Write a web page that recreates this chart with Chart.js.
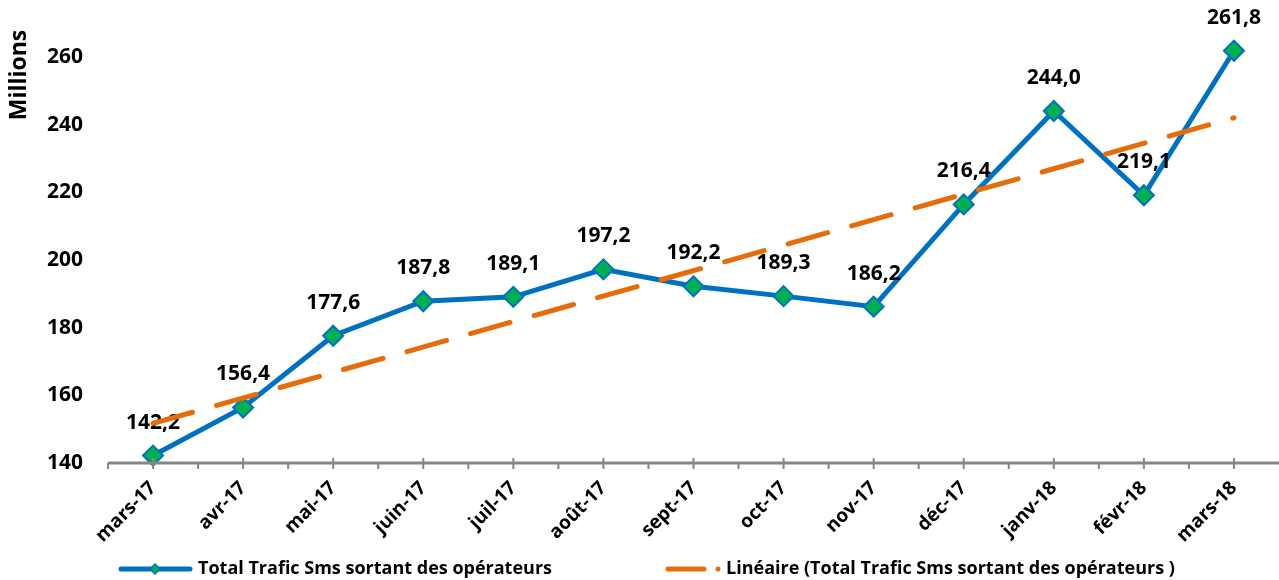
<!DOCTYPE html>
<html lang="fr">
  <head>
    <meta charset="UTF-8" />
    <title>Trafic Sms</title>
    <style>
      html, body { margin: 0; padding: 0; background: #fff; }
      #wrap { width: 1279px; height: 580px; }
    </style>
  </head>
  <body>
    <div id="wrap"><canvas id="myChart" width="1279" height="580"></canvas></div>
    <script src="https://cdn.jsdelivr.net/npm/chart.js"></script>
    <script>
      const FONT = "'Open Sans', 'Liberation Sans', sans-serif";

      // months on the x axis
      const months = [
        "mars-17", "avr-17", "mai-17", "juin-17", "juil-17", "août-17", "sept-17",
        "oct-17", "nov-17", "déc-17", "janv-18", "févr-18", "mars-18",
      ];
      // total sms traffic, millions
      const smsTotal = [142.2, 156.4, 177.6, 187.8, 189.1, 197.2, 192.2, 189.3, 186.2, 216.4, 244.0, 219.1, 261.8];
      // linear trend, first and last month
      const trendEnds = [151.7, 242.0];
      const yTicks = [140, 160, 180, 200, 220, 240, 260];

      const seriesName = "Total Trafic Sms sortant des opérateurs";
      const trendName = "Linéaire (Total Trafic Sms sortant des opérateurs )";

      const BLUE = "#0070C0";
      const GREEN = "#00B050";
      const ORANGE = "#E46C0A";
      const GRAY = "#868686";

      // trend only has values at both ends, spanGaps joins them
      const trendData = months.map((m, i) =>
        i === 0 ? trendEnds[0] : i === months.length - 1 ? trendEnds[1] : null
      );

      const fmt = (v) => v.toFixed(1).replace(".", ",");

      const labelsPlugin = {
        id: "valueLabels",
        afterDatasetDraw(chart, args) {
          if (args.index !== 0) return;
          const ctx = chart.ctx;
          const meta = chart.getDatasetMeta(0);
          ctx.save();
          ctx.font = "bold 21px " + FONT;
          ctx.fillStyle = "#000";
          ctx.textAlign = "center";
          ctx.textBaseline = "alphabetic";
          meta.data.forEach((pt, i) => {
            ctx.fillText(fmt(smsTotal[i]), pt.x, pt.y - 27);
          });
          ctx.restore();
        },
      };

      const axisPlugin = {
        id: "axisDeco",
        afterDraw(chart) {
          const ctx = chart.ctx;
          const xs = chart.scales.x;
          const area = chart.chartArea;
          const y0 = area.bottom;
          ctx.save();
          // x axis line and tick marks
          ctx.strokeStyle = GRAY;
          ctx.lineWidth = 3;
          ctx.beginPath();
          ctx.moveTo(area.left, y0);
          ctx.lineTo(area.right, y0);
          ctx.stroke();
          const step = xs.getPixelForValue(1) - xs.getPixelForValue(0);
          ctx.lineWidth = 2;
          for (let i = 0; i < months.length; i++) {
            const x = xs.getPixelForValue(i);
            ctx.beginPath();
            ctx.moveTo(x, y0 - 5);
            ctx.lineTo(x, y0 + 6);
            ctx.stroke();
            const xb = x - step / 2;
            ctx.beginPath();
            ctx.moveTo(xb, y0);
            ctx.lineTo(xb, y0 + 6);
            ctx.stroke();
          }

          // y title
          ctx.fillStyle = "#000";
          ctx.font = "bold 23px " + FONT;
          ctx.translate(19, 75);
          ctx.rotate(-Math.PI / 2);
          ctx.textAlign = "center";
          ctx.textBaseline = "middle";
          ctx.fillText("Millions", 0, 0);
          ctx.setTransform(1, 0, 0, 1, 0, 0);

          // legend
          const ly = 569;
          ctx.lineCap = "round";
          ctx.lineWidth = 5;
          ctx.strokeStyle = BLUE;
          ctx.beginPath();
          ctx.moveTo(121, ly);
          ctx.lineTo(190, ly);
          ctx.stroke();
          ctx.fillStyle = GREEN;
          ctx.strokeStyle = BLUE;
          ctx.lineWidth = 1.5;
          ctx.beginPath();
          ctx.moveTo(155, ly - 5);
          ctx.lineTo(160, ly);
          ctx.lineTo(155, ly + 5);
          ctx.lineTo(150, ly);
          ctx.closePath();
          ctx.fill();
          ctx.stroke();

          ctx.strokeStyle = ORANGE;
          ctx.lineWidth = 5;
          ctx.beginPath();
          ctx.moveTo(668, ly);
          ctx.lineTo(704, ly);
          ctx.stroke();
          ctx.fillStyle = ORANGE;
          ctx.beginPath();
          ctx.arc(718, ly, 2.5, 0, Math.PI * 2);
          ctx.fill();

          ctx.fillStyle = "#000";
          ctx.font = "bold 18px " + FONT;
          ctx.textAlign = "left";
          ctx.textBaseline = "middle";
          ctx.fillText(seriesName, 198, ly);
          ctx.fillText(trendName, 726, ly);
          ctx.restore();
        },
      };

      const ctx = document.getElementById("myChart").getContext("2d");

      let myChart = new Chart(ctx, {
        type: "line",
        plugins: [labelsPlugin, axisPlugin],
        data: {
          labels: months,
          datasets: [
            {
              label: seriesName,
              data: smsTotal,
              borderColor: BLUE,
              borderWidth: 5,
              pointStyle: "rectRot",
              pointRadius: 10,
              pointBackgroundColor: GREEN,
              pointBorderColor: BLUE,
              pointBorderWidth: 2,
              tension: 0,
              clip: false,
              order: 1,
            },
            {
              label: trendName,
              data: trendData,
              spanGaps: true,
              borderColor: ORANGE,
              borderWidth: 5,
              borderDash: [41, 25],
              borderCapStyle: "round",
              pointRadius: 0,
              order: 0,
            },
          ],
        },
        options: {
          responsive: false,
          animation: false,
          layout: { autoPadding: false, padding: { top: 23, right: 0, left: 0, bottom: 0 } },
          plugins: {
            legend: { display: false },
            tooltip: { enabled: false },
          },
          scales: {
            x: {
              offset: true,
              grid: { display: false, drawTicks: false },
              border: { display: false },
              ticks: {
                color: "#000",
                font: { family: FONT, size: 19, weight: "bold" },
                minRotation: 45,
                maxRotation: 45,
                padding: 14,
                autoSkip: false,
              },
              afterFit: (s) => {
                s.height = 117;
                s.paddingLeft = 0;
                s.paddingRight = 0;
              },
            },
            y: {
              min: 140,
              max: 270,
              grid: { display: false, drawTicks: false },
              border: { display: false },
              afterBuildTicks: (s) => { s.ticks = yTicks.map((v) => ({ value: v })); },
              ticks: {
                color: "#000",
                font: { family: FONT, size: 21, weight: "bold" },
                padding: 25,
              },
              afterFit: (s) => {
                s.width = 108;
                s.paddingTop = 0;
                s.paddingBottom = 0;
              },
            },
          },
        },
      });
    </script>
  </body>
</html>
